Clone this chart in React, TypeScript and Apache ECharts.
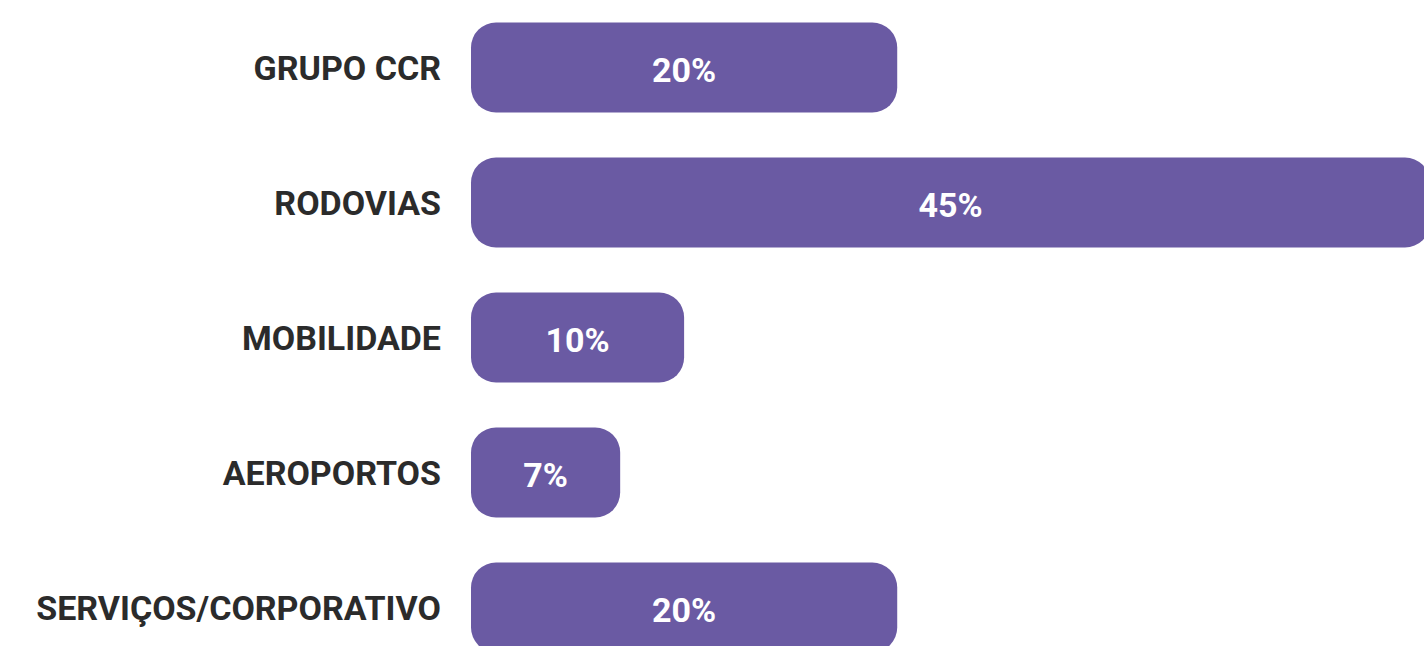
import React, { useEffect, useRef } from "react";
import * as echarts from "echarts";

const categories = ["GRUPO CCR", "RODOVIAS", "MOBILIDADE", "AEROPORTOS", "SERVIÇOS/CORPORATIVO"];
const values = [20, 45, 10, 7, 20];

const BAR_COLOR = "#6a5aa3";
const TEXT_COLOR = "#2b2b2b";
const FONT = "Roboto, 'Noto Sans', sans-serif";

export default function App() {
  const ref = useRef<HTMLDivElement>(null);

  useEffect(() => {
    if (!ref.current) return;
    const chart = echarts.init(ref.current, null, { renderer: "svg" });
    chart.setOption({
      animation: false,
      backgroundColor: "#ffffff",
      grid: { left: 471, right: 0, top: 0, bottom: 0, containLabel: false },
      xAxis: {
        type: "value",
        min: 0,
        max: 45,
        show: false,
      },
      yAxis: {
        type: "category",
        data: categories,
        inverse: true,
        axisLine: { show: false },
        axisTick: { show: false },
        splitLine: { show: false },
        axisLabel: {
          margin: 30,
          fontSize: 34,
          fontWeight: "bold",
          fontFamily: FONT,
          color: TEXT_COLOR,
        },
      },
      series: [
        {
          type: "bar",
          data: values,
          barWidth: 90,
          clip: false,
          itemStyle: { color: BAR_COLOR, borderRadius: 25 },
          label: {
            show: true,
            position: "inside",
            formatter: "{c}%",
            color: "#ffffff",
            fontSize: 34,
            fontWeight: "bold",
            fontFamily: FONT,
            offset: [0, 2],
          },
        },
      ],
    });
    return () => chart.dispose();
  }, []);

  return (
    <div style={{ position: "fixed", left: 0, top: 0, width: 1424, height: 646, overflow: "hidden", background: "#fff" }}>
      <div ref={ref} style={{ width: 1430, height: 675 }} />
    </div>
  );
}
